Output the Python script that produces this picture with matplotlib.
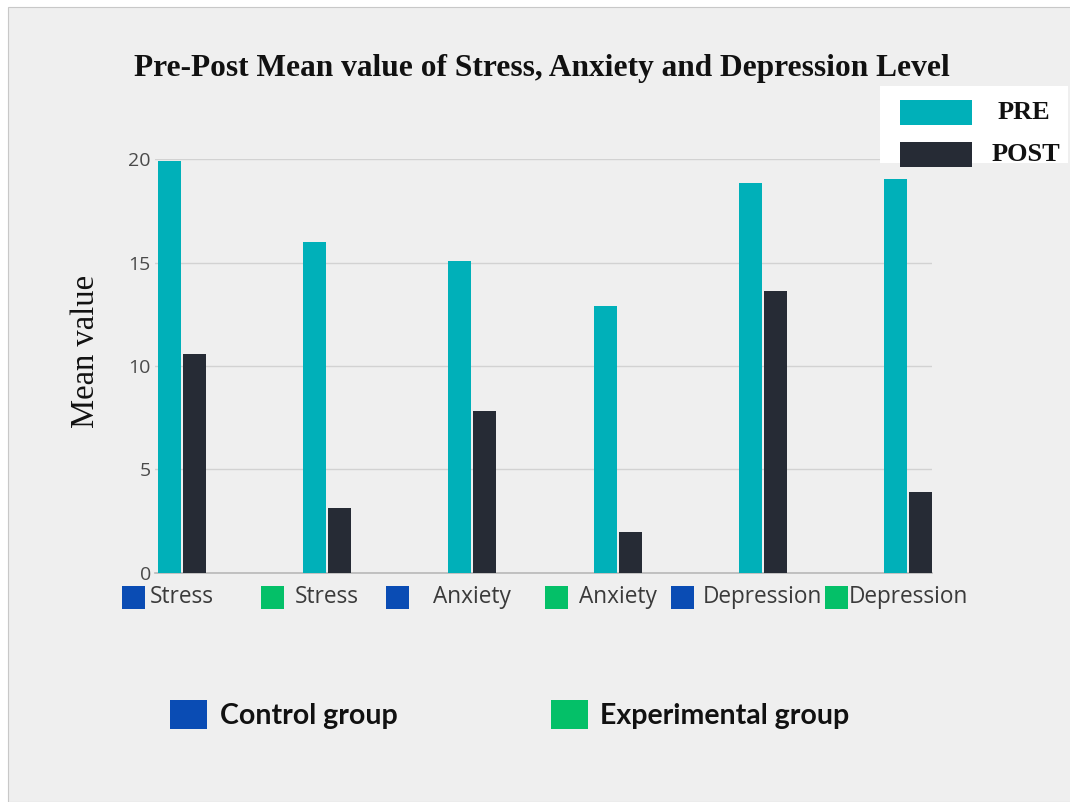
import matplotlib.pyplot as plt
from matplotlib.patches import Rectangle
from matplotlib.transforms import blended_transform_factory
import numpy as np

categories = ["Stress", "Stress", "Anxiety", "Anxiety", "Depression", "Depression"]
groups = ["Control group", "Experimental group", "Control group",
          "Experimental group", "Control group", "Experimental group"]
pre = [19.93, 16.01, 15.08, 12.90, 18.84, 19.03]
post = [10.57, 3.13, 7.84, 1.98, 13.63, 3.89]
yticks = [0, 5, 10, 15, 20]

TEAL = "#00b0b9"
DARK = "#262b35"
BLUE = "#0a4cb4"
GREEN = "#04c068"
BG = "#efefef"
group_colors = {"Control group": BLUE, "Experimental group": GREEN}

fig = plt.figure(figsize=(10.7, 8.02), dpi=100)
fig.patch.set_facecolor("white")
# light grey card with thin border
fig.patches.append(Rectangle((8 / 1070, 0), 1.0, 1 - 7 / 802, transform=fig.transFigure,
                             facecolor=BG, edgecolor="#c8c8c8", linewidth=0.8, zorder=-5))

ax = fig.add_axes([0.1449, 0.2859, 0.7262, 0.5155])
ax.set_facecolor(BG)

x = np.arange(len(categories))
w = 0.158
ax.bar(x, pre, width=w, align="edge", color=TEAL, zorder=3)
ax.bar(x + 0.172, post, width=w, align="edge", color=DARK, zorder=3)

ax.set_xlim(-0.02, 5.33)
ax.set_ylim(0, 20)
ax.set_yticks(yticks)
ax.set_yticklabels([str(t) for t in yticks], fontsize=14, color="#4a4a4a",
                   fontfamily="Open Sans")
ax.tick_params(axis="y", length=0, pad=3)
ax.grid(axis="y", color="#d2d2d2", linewidth=1.0, zorder=0)
for s in ["left", "right", "top"]:
    ax.spines[s].set_visible(False)
ax.spines["bottom"].set_color("#b8b8b8")
ax.spines["bottom"].set_linewidth(1.2)

# x labels with coloured group squares
ax.set_xticks(x + 0.165)
ax.set_xticklabels(categories, fontsize=16.3, color="#3a3a3a", fontfamily="Open Sans")
ax.tick_params(axis="x", length=0, pad=9)
sq_off = [-0.245, -0.290, -0.428, -0.338, -0.469, -0.41]
trans = blended_transform_factory(ax.transData, ax.transAxes)
for i, g in enumerate(groups):
    ax.add_patch(Rectangle((x[i] + sq_off[i], -0.087), 0.159, 0.055, transform=trans,
                           facecolor=group_colors[g], edgecolor="none", clip_on=False))

ax.set_ylabel("Mean value", fontsize=23.5, fontfamily="Liberation Serif", color="#111111")
ax.yaxis.set_label_coords(-0.07, 0.536)

fig.text(0.506, 0.915, "Pre-Post Mean value of Stress, Anxiety and Depression Level",
         ha="center", va="center", fontsize=22.6, fontweight="bold",
         fontfamily="Liberation Serif", color="#111111")

# PRE / POST legend
fig.patches.append(Rectangle((0.822, 0.797), 0.176, 0.096, transform=fig.transFigure,
                             facecolor="white", edgecolor="none", zorder=1))
fig.patches.append(Rectangle((0.841, 0.844), 0.0673, 0.031, transform=fig.transFigure,
                             facecolor=TEAL, edgecolor="none", zorder=2))
fig.patches.append(Rectangle((0.841, 0.792), 0.0673, 0.031, transform=fig.transFigure,
                             facecolor=DARK, edgecolor="none", zorder=2))
fig.text(0.957, 0.860, "PRE", ha="center", va="center", fontsize=19, fontweight="bold",
         fontfamily="Liberation Serif", color="#111111")
fig.text(0.959, 0.807, "POST", ha="center", va="center", fontsize=19, fontweight="bold",
         fontfamily="Liberation Serif", color="#111111")

# group legend at bottom
for gx, tx, g in [(170, 220, "Control group"), (551, 600, "Experimental group")]:
    fig.patches.append(Rectangle((gx / 1070, 1 - 729 / 802), 37 / 1070, 29 / 802,
                                 transform=fig.transFigure, facecolor=group_colors[g],
                                 edgecolor="none"))
    fig.text(tx / 1070, 1 - 716 / 802, g, ha="left", va="center", fontsize=20.5,
             fontweight="bold", fontfamily="Lato", color="#111111")

fig.savefig("out.png", dpi=100, facecolor=fig.get_facecolor())
